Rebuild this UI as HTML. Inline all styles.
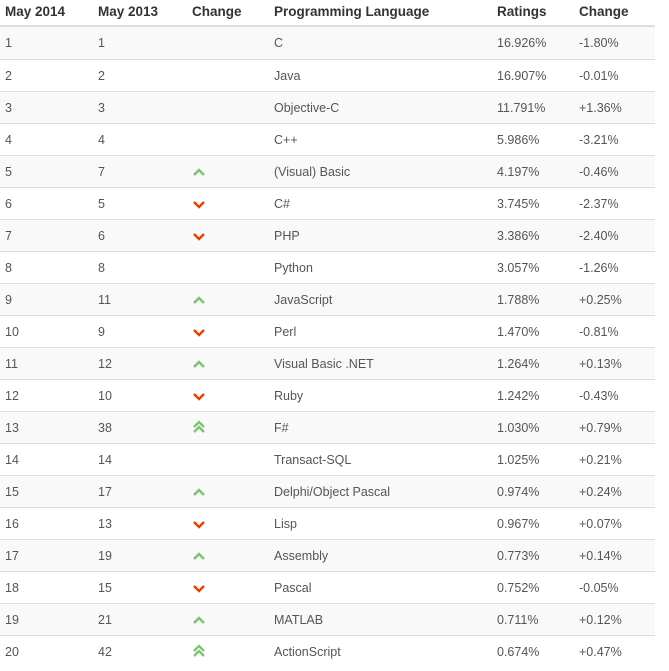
<!DOCTYPE html>
<html><head><style>
body{margin:0;background:#fff;font-family:"Liberation Sans",Arial,sans-serif;width:669px;height:671px;overflow:hidden;position:relative}
.h{position:absolute;top:0;left:0;width:655px;height:27px;border-bottom:2px solid #ddd;box-sizing:border-box}
.h span{position:absolute;top:4px;font-weight:bold;font-size:13.5px;color:#333}
.r{position:absolute;left:0;width:655px;height:32px;border-top:1px solid #ddd;box-sizing:border-box;font-size:12.5px;color:#555}
.r.o{background:#f9f9f9}
.r span{position:absolute;top:9px}
.r svg{position:absolute;left:192px;top:10px}
</style></head><body>
<div class="h"><span style="left:5px">May 2014</span><span style="left:98px">May 2013</span><span style="left:192px">Change</span><span style="left:274px">Programming Language</span><span style="left:497px">Ratings</span><span style="left:579px">Change</span></div>
<div id="t"></div>
<script>
var d=[[1,1,0,"C","16.926%","-1.80%"],[2,2,0,"Java","16.907%","-0.01%"],[3,3,0,"Objective-C","11.791%","+1.36%"],[4,4,0,"C++","5.986%","-3.21%"],[5,7,1,"(Visual) Basic","4.197%","-0.46%"],[6,5,-1,"C#","3.745%","-2.37%"],[7,6,-1,"PHP","3.386%","-2.40%"],[8,8,0,"Python","3.057%","-1.26%"],[9,11,1,"JavaScript","1.788%","+0.25%"],[10,9,-1,"Perl","1.470%","-0.81%"],[11,12,1,"Visual Basic .NET","1.264%","+0.13%"],[12,10,-1,"Ruby","1.242%","-0.43%"],[13,38,2,"F#","1.030%","+0.79%"],[14,14,0,"Transact-SQL","1.025%","+0.21%"],[15,17,1,"Delphi/Object Pascal","0.974%","+0.24%"],[16,13,-1,"Lisp","0.967%","+0.07%"],[17,19,1,"Assembly","0.773%","+0.14%"],[18,15,-1,"Pascal","0.752%","-0.05%"],[19,21,1,"MATLAB","0.711%","+0.12%"],[20,42,2,"ActionScript","0.674%","+0.47%"]];
var h="";
d.forEach(function(r,i){
var ic="";
if(r[2]==1)ic='<svg width="14" height="12"><polyline points="2,9 7,4 12,9" fill="none" stroke="#7cc46e" stroke-width="2.5"/></svg>';
if(r[2]==-1)ic='<svg width="14" height="12"><polyline points="2,4 7,9 12,4" fill="none" stroke="#e8400c" stroke-width="2.5"/></svg>';
if(r[2]==2)ic='<svg width="14" height="14" style="top:8px"><polyline points="2,7 7,2 12,7" fill="none" stroke="#7cc46e" stroke-width="2.3"/><polyline points="2,12 7,7 12,12" fill="none" stroke="#7cc46e" stroke-width="2.3"/></svg>';
h+='<div class="r'+(i%2==0?' o':'')+'" style="top:'+(27+32*i)+'px'+(i==0?';border-top:none':'')+'"><span style="left:5px">'+r[0]+'</span><span style="left:98px">'+r[1]+'</span>'+ic+'<span style="left:274px">'+r[3]+'</span><span style="left:497px">'+r[4]+'</span><span style="left:579px">'+r[5]+'</span></div>';
});
document.getElementById("t").innerHTML=h;
</script>
</body></html>
